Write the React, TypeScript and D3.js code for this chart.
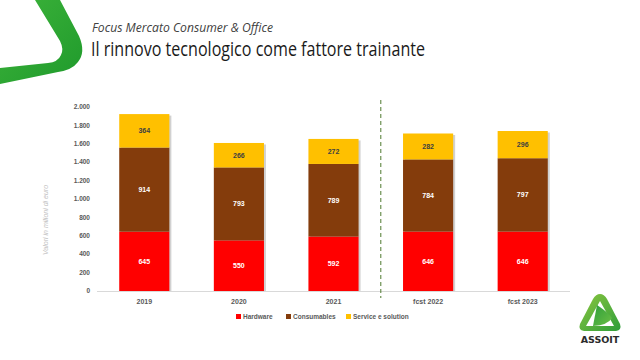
import React from "react";
import * as d3 from "d3";

const categories = ["2019", "2020", "2021", "fcst 2022", "fcst 2023"];
const hardware = [645, 550, 592, 646, 646];
const consumables = [914, 793, 789, 784, 797];
const services = [364, 266, 272, 282, 296];
const seriesNames = ["Hardware", "Consumables", "Service e solution"];
const seriesColors = ["#ff0000", "#843c0c", "#ffc000"];
const labelColors = ["#ffffff", "#ffffff", "#404040"];
const yTicks = [0, 200, 400, 600, 800, 1000, 1200, 1400, 1600, 1800, 2000];

const W = 640, H = 360;
const plotLeft = 97, plotRight = 570, plotTop = 107, plotBottom = 291;

const fmt = (v: number) => {
  const s = String(v);
  return s.length > 3 ? s.slice(0, s.length - 3) + "." + s.slice(-3) : s;
};

export default function App() {
  const x = d3.scaleBand<string>().domain(categories).range([plotLeft, plotRight]).paddingInner(0.47).paddingOuter(0.235);
  const y = d3.scaleLinear().domain([0, 2000]).range([plotBottom, plotTop]);
  const rows = categories.map((c, i) => ({ cat: c, Hardware: hardware[i], Consumables: consumables[i], "Service e solution": services[i] }));
  const stack = d3.stack<any>().keys(seriesNames)(rows);
  const font = "'Liberation Sans', Arial, sans-serif";
  const titleFont = "'Liberation Sans Narrow', 'Open Sans', sans-serif";
  const dashX = ((x(categories[2]) as number) + x.bandwidth() + (x(categories[3]) as number)) / 2;

  const legendItems = [
    { name: seriesNames[0], x: 236 },
    { name: seriesNames[1], x: 286 },
    { name: seriesNames[2], x: 346 },
  ];

  return (
    <svg width={W} height={H} style={{ position: "absolute", left: 0, top: 0, background: "#fff" }}>
      <defs>
        <linearGradient id="gTop" x1="0" y1="0" x2="1" y2="1">
          <stop offset="0" stopColor="#3db33a" />
          <stop offset="1" stopColor="#1f9a2c" />
        </linearGradient>
        <linearGradient id="gLogo" x1="0" y1="0" x2="1" y2="1">
          <stop offset="0" stopColor="#8cc63f" />
          <stop offset="1" stopColor="#2e9e3a" />
        </linearGradient>
        <linearGradient id="gLogoIn" x1="0" y1="0" x2="1" y2="1">
          <stop offset="0" stopColor="#2e9e3a" />
          <stop offset="1" stopColor="#6bbf45" />
        </linearGradient>
      </defs>
      {/* top-left green band */}
      <path
        d="M35,0 L60,0 L79,36 Q86,52 78,62 Q72,70 58,72 L0,84 L0,68 L48,63 Q58,62 61,55 Q64,49 60,41 Z"
        fill="url(#gTop)"
      />
      <text x={92} y={32} fontFamily={titleFont} fontStyle="italic" fontSize={12} fill="#404040" textLength={181} lengthAdjust="spacingAndGlyphs">
        Focus Mercato Consumer &amp; Office
      </text>
      <text x={91} y={56} fontFamily={titleFont} fontSize={20} fill="#1a1a1a" textLength={334} lengthAdjust="spacingAndGlyphs">
        Il rinnovo tecnologico come fattore trainante
      </text>

      {/* y axis title */}
      <text transform="translate(48,220) rotate(-90)" textAnchor="middle" fontFamily={font} fontStyle="italic" fontSize={7} fill="#bfbfbf">
        Valori in  milioni di euro
      </text>

      {/* y ticks */}
      {yTicks.map((t) => (
        <text key={t} x={90} y={y(t)} dy="0.35em" textAnchor="end" fontFamily={font} fontWeight="bold" fontSize={6.5} fill="#595959">
          {fmt(t)}
        </text>
      ))}

      {/* axis line */}
      <line x1={plotLeft} x2={plotRight} y1={plotBottom + 0.5} y2={plotBottom + 0.5} stroke="#d9d9d9" strokeWidth={1} />

      {/* bar shadows */}
      {rows.map((r, i) => {
        const top = stack[2][i][1];
        return (
          <rect key={"sh" + i} x={(x(r.cat) as number) + 2} y={y(top) + 1.5} width={x.bandwidth()} height={y(0) - y(top) - 1.5} fill="#000" opacity={0.18} />
        );
      })}

      {/* bars */}
      {stack.map((s, si) => (
        <g key={si}>
          {s.map((d, i) => (
            <rect key={i} x={x(categories[i]) as number} y={y(d[1])} width={x.bandwidth()} height={y(d[0]) - y(d[1])} fill={seriesColors[si]} />
          ))}
        </g>
      ))}

      {/* value labels */}
      {stack.map((s, si) => (
        <g key={"l" + si}>
          {s.map((d, i) => (
            <text key={i} x={(x(categories[i]) as number) + x.bandwidth() / 2} y={(y(d[0]) + y(d[1])) / 2} dy="0.35em" textAnchor="middle" fontFamily={font} fontWeight="bold" fontSize={7} fill={labelColors[si]}>
              {d[1] - d[0]}
            </text>
          ))}
        </g>
      ))}

      {/* dashed separator */}
      <line x1={dashX} x2={dashX} y1={100} y2={298} stroke="#4e7a2e" strokeWidth={1} strokeDasharray="4,3" />

      {/* category labels */}
      {categories.map((c) => (
        <text key={c} x={(x(c) as number) + x.bandwidth() / 2} y={304} textAnchor="middle" fontFamily={font} fontWeight="bold" fontSize={7} fill="#595959">
          {c}
        </text>
      ))}

      {/* legend */}
      {legendItems.map((l, i) => (
        <g key={l.name}>
          <rect x={l.x} y={314} width={5} height={5} fill={seriesColors[i]} />
          <text x={l.x + 7} y={319} fontFamily={font} fontWeight="bold" fontSize={6.5} fill="#595959">
            {l.name}
          </text>
        </g>
      ))}

      {/* ASSOIT logo */}
      <g>
        <path d="M600,294 Q604,294 607,299 L620,324 Q622,330 616,331 L584,331 Q578,330 580,324 L593,299 Q596,294 600,294 Z" fill="url(#gLogo)" />
        <path d="M600,301 L614,326 L586,326 Z" fill="#ffffff" />
        <path d="M597,305 Q609,313 612,318 Q608,325 593,326 Z" fill="url(#gLogoIn)" />
        <text x={600} y={343} textAnchor="middle" fontFamily="'DejaVu Sans', sans-serif" fontWeight="bold" fontSize={9.5} fill="#2b2b2b">
          ASSOIT
        </text>
      </g>
    </svg>
  );
}
